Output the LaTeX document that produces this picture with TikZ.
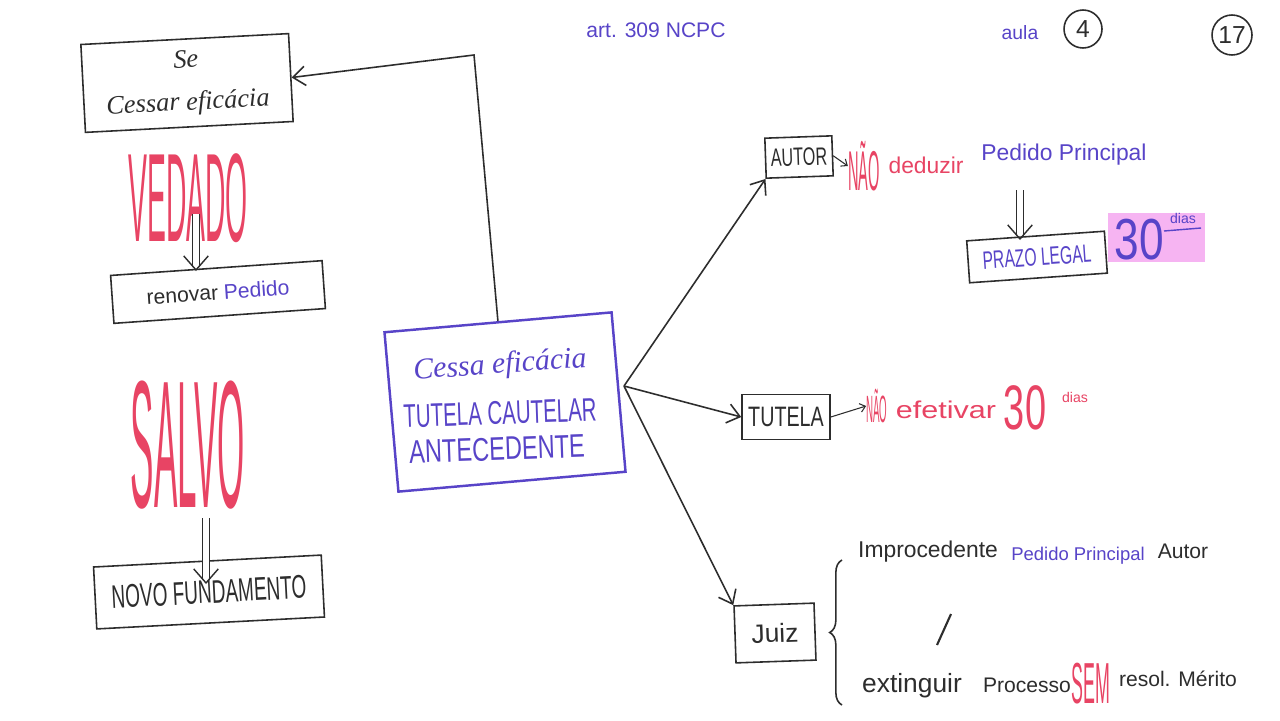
\documentclass[tikz,border=0pt]{standalone}
\usepackage{fontspec}
\setmainfont{Liberation Sans}
\newfontfamily\handit{Liberation Serif}
\usetikzlibrary{arrows.meta,decorations.pathreplacing,calc}
\definecolor{inkblue}{RGB}{88,68,200}
\definecolor{inkred}{RGB}{232,68,100}
\definecolor{pencil}{RGB}{45,45,45}
\definecolor{hlpink}{RGB}{246,180,242}
\begin{document}
\begin{tikzpicture}[x=0.02cm,y=-0.02cm,
  box/.style={draw=pencil,line width=0.9pt,inner sep=0pt,text=pencil},
  arr/.style={draw=pencil,line width=0.9pt,-{Straight Barb[length=7pt,width=11pt]}},
  dline/.style={draw=pencil,double=white,double distance=3.5pt,line width=0.7pt},
  vhead/.style={draw=pencil,line width=0.8pt,-{Straight Barb[length=8pt,width=14pt]}},
  small/.style={draw=pencil,line width=0.6pt,-{Straight Barb[length=3pt,width=5pt]}},
  bt/.style={text=inkblue,inner sep=0pt},
  rt/.style={text=inkred,inner sep=0pt},
  kt/.style={text=pencil,inner sep=0pt}]
\useasboundingbox (0,0) rectangle (1280,720);
\fill[white] (0,0) rectangle (1280,720);

% header
\node[bt,font=\fontsize{12}{12}\selectfont] (art) at (656,30) {art. 309 NCPC};
\node[bt,font=\fontsize{11}{11}\selectfont] (aula) at (1020,33) {aula};
\node[draw=pencil,line width=0.9pt,circle,minimum size=0.76cm,kt,font=\fontsize{14}{14}\selectfont] (four) at (1083,29) {4};
\node[draw=pencil,line width=0.9pt,circle,minimum size=0.8cm,kt,font=\fontsize{14}{14}\selectfont] (seventeen) at (1232,35) {17};

% left column
\node[box,minimum width=4.16cm,minimum height=1.76cm,rotate=3,align=center,
      font=\handit\itshape\fontsize{15}{24}\selectfont] (sebox) at (187,83) {Se\\Cessar eficácia};
\node[rt] (vedado) at (188,198) {\resizebox{68pt}{50pt}{VEDADO}};
\node[box,minimum width=4.24cm,minimum height=0.96cm,rotate=4,font=\fontsize{12}{12}\selectfont] (renbox) at (218,292)
      {renovar \textcolor{inkblue}{Pedido}};
\coordinate (v1) at (196,214);
\coordinate (v2) at (196,271);
\draw[dline] (v1) -- ($(v2)+(0,-4)$);
\draw[vhead] ($(v2)+(0,-2)$) -- (v2);

\node[rt] (salvo) at (188,445) {\resizebox{65pt}{72pt}{SALVO}};
\node[box,minimum width=4.56cm,minimum height=1.24cm,rotate=3] (novobox) at (209,592)
      {\resizebox{111pt}{13pt}{NOVO FUNDAMENTO}};
\coordinate (s1) at (206,518);
\coordinate (s2) at (206,584);
\draw[dline] (s1) -- ($(s2)+(0,-4)$);
\draw[vhead] ($(s2)+(0,-2)$) -- (s2);

% central box
\node[draw=inkblue,line width=1.4pt,minimum width=4.56cm,minimum height=3.2cm,rotate=5,inner sep=0pt] (central) at (505,402) {};
\node[bt,font=\handit\itshape\fontsize{17}{17}\selectfont,rotate=4] (cessa) at (500,366) {Cessa eficácia};
\node[bt,rotate=2] (tc) at (500,413) {\resizebox{110pt}{13pt}{TUTELA CAUTELAR}};
\node[bt,rotate=2] (ant) at (497,449) {\resizebox{100pt}{13pt}{ANTECEDENTE}};

% loop back to Se box
\coordinate (corner) at (474,55);
\draw[arr] (central.north) -- (corner) -- (sebox.east);

% right branches
\coordinate (hub) at (624,386);
\node[box,minimum width=1.34cm,minimum height=0.8cm,rotate=2] (autor) at (799,157) {\resizebox{32pt}{10pt}{AUTOR}};
\node[box,minimum width=1.76cm,minimum height=0.9cm] (tutela) at (786,417) {\resizebox{43pt}{11pt}{TUTELA}};
\node[box,minimum width=1.6cm,minimum height=1.14cm,rotate=2,font=\fontsize{15}{15}\selectfont] (juiz) at (775,633) {Juiz};
\draw[arr] (hub) -- (autor.south west);
\draw[arr] (hub) -- (tutela.west);
\draw[arr] (hub) -- (juiz.north west);

% AUTOR line
\node[rt] (nao1) at (864,166) {\resizebox{18pt}{28pt}{NÃO}};
\draw[small] (autor.east) -- (nao1.west);
\node[rt,font=\fontsize{13}{13}\selectfont] (deduzir) at (926,165) {deduzir};
\node[bt,font=\fontsize{13}{13}\selectfont] (pedprin) at (1064,155) {Pedido Principal};
\node[box,minimum width=2.76cm,minimum height=0.84cm,rotate=4,text=inkblue] (prazo) at (1037,257) {\resizebox{62pt}{10pt}{PRAZO LEGAL}};
\coordinate (p1) at (1020,190);
\coordinate (p2) at (1020,240);
\draw[dline] (p1) -- ($(p2)+(0,-4)$);
\draw[vhead] ($(p2)+(0,-2)$) -- (p2);
\fill[hlpink] (1108,213) rectangle (1205,262);
\node[bt] (trinta1) at (1139,240) {\resizebox{28pt}{23pt}{30}};
\node[bt,font=\fontsize{8}{8}\selectfont] (dias1) at (1183,218) {dias};
\draw[inkblue,line width=0.8pt] (1164,231) -- (1201,228);

% TUTELA line
\node[rt] (nao2) at (877,406) {\resizebox{12pt}{19pt}{NÃO}};
\draw[small] (tutela.east) -- (nao2.west);
\node[rt] (efetivar) at (946,410) {\resizebox{57pt}{10pt}{efetivar}};
\node[rt] (trinta2) at (1025,408) {\resizebox{24pt}{25pt}{30}};
\node[rt,font=\fontsize{8}{8}\selectfont] (dias2) at (1075,397) {dias};

% Juiz alternatives
\draw[draw=pencil,line width=0.9pt,decorate,decoration={brace,amplitude=7pt}] (842,705) -- (842,560);
\node[kt,font=\fontsize{13}{13}\selectfont] (improc) at (928,552) {Improcedente};
\node[bt,font=\fontsize{10.5}{10.5}\selectfont] (pedprin2) at (1078,556) {Pedido Principal};
\node[kt,font=\fontsize{12}{12}\selectfont] (autor2) at (1183,551) {Autor};
\coordinate (sl1) at (951,614);
\coordinate (sl2) at (937,645);
\draw[pencil,line width=1.2pt] (sl1) -- (sl2);
\node[kt,font=\fontsize{15}{15}\selectfont] (extinguir) at (912,686) {extinguir};
\node[kt,font=\fontsize{12}{12}\selectfont] (processo) at (1027,685) {Processo};
\node[rt] (sem) at (1091,684) {\resizebox{22pt}{23pt}{SEM}};
\node[kt,font=\fontsize{12}{12}\selectfont] (resol) at (1178,679) {resol. Mérito};
\end{tikzpicture}
\end{document}
